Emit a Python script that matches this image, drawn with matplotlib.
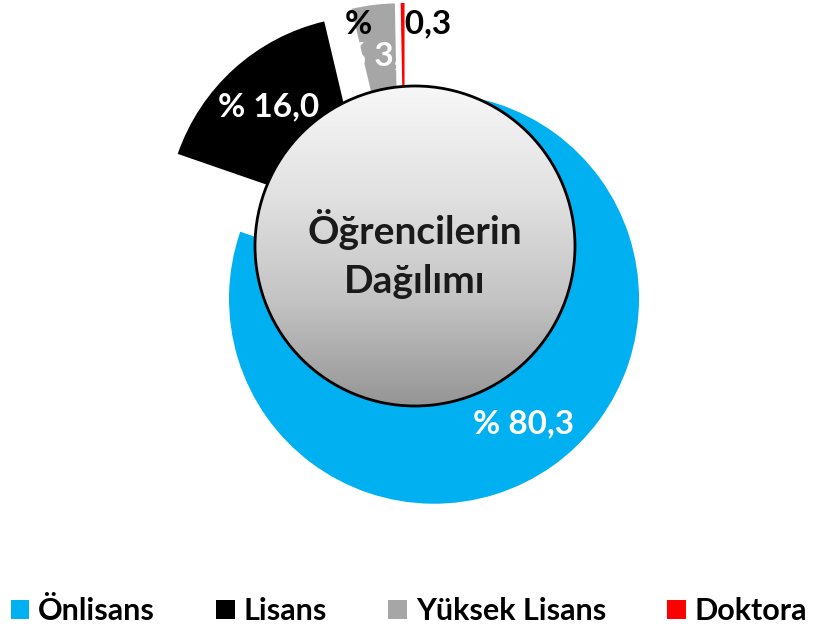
import matplotlib
matplotlib.use("Agg")
import matplotlib.pyplot as plt
from matplotlib.patches import Circle, Patch
import numpy as np

# data
categories = ["Önlisans", "Lisans", "Yüksek Lisans", "Doktora"]
shares = [80.3, 16.0, 3.4, 0.3]
colors = ["#00B0F0", "#000000", "#A6A6A6", "#FF0000"]
label_colors = ["white", "white", "white", "black"]
center_title = "Öğrencilerin\nDağılımı"

plt.rcParams['font.family'] = ['Lato', 'DejaVu Sans']

W, H = 818, 637
fig = plt.figure(figsize=(W / 100, H / 100), dpi=100)
ax = fig.add_axes([0, 0, 1, 1])

R = 205
pie_center = (405, H - 258)

wedges, texts, autotexts = ax.pie(
    shares, colors=colors, radius=R, center=pie_center,
    startangle=90, counterclock=False, explode=[50] * len(shares),
    autopct=lambda p: "% " + f"{p:.1f}".replace(".", ","),
    pctdistance=0.75, frame=True,
    wedgeprops=dict(linewidth=0),
    textprops=dict(fontsize=24, fontweight='bold'))
ax.set_xlim(0, W)
ax.set_ylim(0, H)
ax.set_aspect('equal')
ax.axis('off')

for t, c in zip(autotexts, label_colors):
    t.set_color(c)
    t.set_zorder(5)
# the tiny doktora slice gets its label pushed above the chart, straddling the slice
wedges[3].set_zorder(6)
autotexts[3].set_zorder(7)
autotexts[3].set_text(autotexts[3].get_text().replace("% ", "%    "))
autotexts[3].set_position((398, H - 24))

# center disc with vertical gradient
cc = (415, H - 246)
cr = 160
grad = np.linspace(0, 1, 256).reshape(-1, 1)
cmap = matplotlib.colors.LinearSegmentedColormap.from_list(
    "g", ["#959595", "#c4c4c4", "#e2e2e2", "#f7f7f7"])
img = ax.imshow(grad, cmap=cmap, origin='lower', aspect='auto',
                extent=[cc[0] - cr, cc[0] + cr, cc[1] - cr, cc[1] + cr], zorder=8)
clip = Circle(cc, cr, transform=ax.transData, facecolor='none')
ax.add_patch(clip)
img.set_clip_path(clip)
ax.add_patch(Circle(cc, cr, facecolor='none', edgecolor='black', linewidth=2, zorder=9))
ax.text(cc[0], cc[1] - 8, center_title, ha='center', va='center',
        fontsize=28, fontweight='bold', color='#1a1a1a', linespacing=1.45, zorder=10)

handles = [Patch(facecolor=c, edgecolor='none') for c in colors]
fig.legend(handles, categories, loc='lower center', ncol=4, frameon=False,
           bbox_to_anchor=(0.5, -0.025), prop=dict(size=22, weight='bold'),
           handlelength=0.6, handleheight=0.6, handletextpad=0.3, columnspacing=2.0)

fig.savefig("out.png", dpi=100)
